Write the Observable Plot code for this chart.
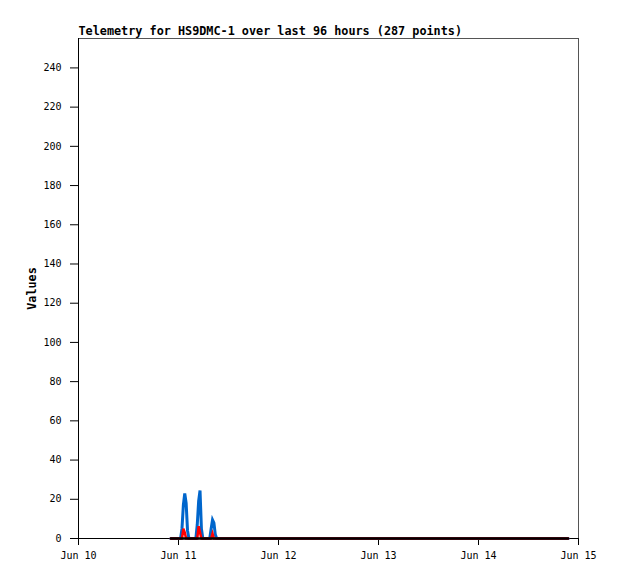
<!DOCTYPE html>
<html>
<head>
<meta charset="utf-8">
<script src="https://cdn.jsdelivr.net/npm/d3@7"></script>
<script src="https://cdn.jsdelivr.net/npm/@observablehq/plot@0.6"></script>
<style>
  html, body { margin: 0; padding: 0; background: #fff; }
  #chart svg { display: block; }
</style>
</head>
<body>
<div id="chart"></div>
<script>
// ---- data ----
const titleText = "Telemetry for HS9DMC-1 over last 96 hours (287 points)";
const yLabel = "Values";
const firstSample = "2024-06-10T22:10:00Z";   // first reading
const sampleMinutes = 20;                        // reading interval
const pointCount = 287;
// readings 0..33 of each series; every later reading is 0
const blueLead  = [0,0,0,0,0,0,0,0,5,17,23,18,4,0,0,0,0,0,0,7,19,24.5,5,0,0,0,0,0,0,5,9.5,8,2,0];
const redLead   = [0,0,0,0,0,0,0,0,0,5,3,0,0,0,0,0,0,0,0,0,6.3,3,0,0,0,0,0,0,0,0,2.5,0,0,0];
const blackLead = [0,0,0,0,0,0,0,0,0,0,0,0,0,0,0,0,0,0,0,0,0,0,0,0,0,0,0,0,0,0,0,0,0,0];
const xDomain = ["2024-06-10T00:00:00Z", "2024-06-15T00:00:00Z"];
const yTicks = [0,20,40,60,80,100,120,140,160,180,200,220,240];
const yMax = 255;

// ---- build table ----
const t0 = new Date(firstSample).getTime();
function series(lead, name) {
  const out = [];
  for (let i = 0; i < pointCount; i++) {
    out.push({t: new Date(t0 + i * sampleMinutes * 60000), v: i < lead.length ? lead[i] : 0, s: name});
  }
  return out;
}
const blue = series(blueLead, "blue");
const red = series(redLead, "red");
const black = series(blackLead, "black");

const font = "'DejaVu Sans Mono', 'Liberation Mono', monospace";

const chart = Plot.plot({
  width: 618,
  height: 579,
  marginLeft: 78,
  marginRight: 40,
  marginTop: 38,
  marginBottom: 41,
  style: {fontFamily: font, fontSize: "10px", background: "#fff", color: "#000", overflow: "visible"},
  x: {type: "utc", domain: xDomain.map(d => new Date(d))},
  y: {domain: [0, yMax]},
  marks: [
    Plot.frame({stroke: "#555", strokeWidth: 1}),
    Plot.axisY({ticks: yTicks, tickSize: 8, tickPadding: 9, label: null, fontSize: 10}),
    Plot.axisX({ticks: d3.utcDay.every(1), tickFormat: d3.utcFormat("%b %d"), tickSize: 7, tickPadding: 6, label: null, fontSize: 10}),
    Plot.ruleX([new Date(xDomain[0])], {stroke: "#000"}),
    Plot.ruleY([0], {stroke: "#000"}),
    Plot.lineY(blue, {x: "t", y: "v", stroke: "#0066cc", strokeWidth: 3, strokeLinejoin: "miter", strokeMiterlimit: 4}),
    Plot.lineY(red, {x: "t", y: "v", stroke: "#ff0000", strokeWidth: 2.5, strokeLinejoin: "miter", strokeMiterlimit: 4}),
    Plot.lineY(black, {x: "t", y: "v", stroke: "#000", strokeWidth: 2.5}),
    Plot.text([titleText], {frameAnchor: "top-left", textAnchor: "start", lineAnchor: "bottom", dy: -4, fontWeight: "bold", fontSize: 11.8, fill: "#000"}),
    Plot.text([yLabel], {frameAnchor: "left", rotate: -90, dx: -46, textAnchor: "middle", fontWeight: "bold", fontSize: 11.8, fill: "#000"})
  ]
});
document.getElementById("chart").appendChild(chart);
</script>
</body>
</html>
